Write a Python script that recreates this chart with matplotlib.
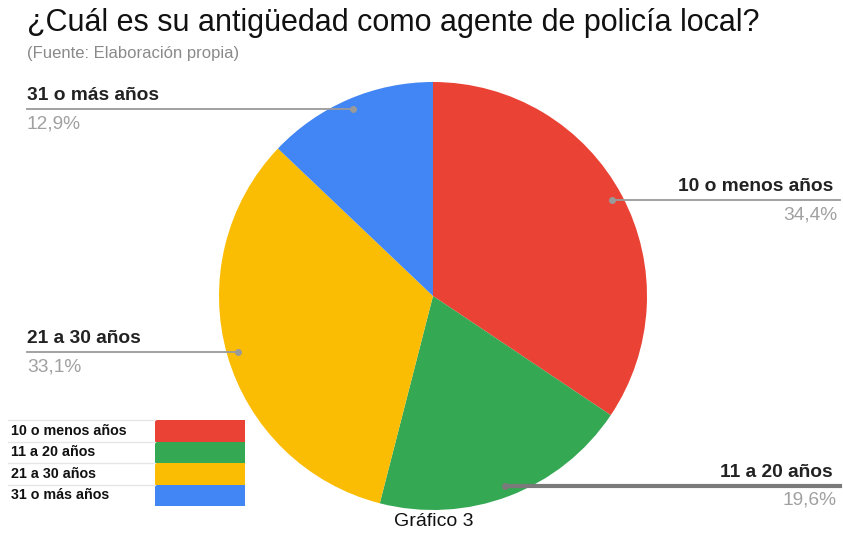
import numpy as np
import matplotlib
matplotlib.use('Agg')
import matplotlib.pyplot as plt
from matplotlib.patches import Rectangle

plt.rcParams['font.family'] = ['Liberation Sans', 'DejaVu Sans']

# Data
categories = ['10 o menos años', '11 a 20 años', '21 a 30 años', '31 o más años']
shares = [34.4, 19.6, 33.1, 12.9]
share_labels = ['34,4%', '19,6%', '33,1%', '12,9%']
colors = ['#EA4335', '#34A853', '#FBBC04', '#4285F4']

W, H = 843, 533
fig = plt.figure(figsize=(W / 100, H / 100), dpi=100)
ax = fig.add_axes([0, 0, 1, 1])

cx, cy, r = 433, H - 296, 214
wedges, _ = ax.pie(shares, colors=colors, startangle=90, counterclock=False,
                   center=(cx, cy), radius=r, frame=True,
                   wedgeprops=dict(linewidth=0))
ax.set_xlim(0, W)
ax.set_ylim(0, H)
ax.set_aspect('equal')
ax.axis('off')

# Title
fig.text(27 / W, 1 - 31 / H, '¿Cuál es su antigüedad como agente de policía local?',
         fontsize=22, color='#111111', ha='left', va='baseline')
fig.text(27 / W, 1 - 58 / H, '(Fuente: Elaboración propia)',
         fontsize=12, color='#8a8a8a', ha='left', va='baseline')

# Leader lines and labels
left_side = {2: True, 3: True, 0: False, 1: False}
for i, w in enumerate(wedges):
    mid = np.deg2rad((w.theta1 + w.theta2) / 2)
    ax_x = cx + 0.95 * r * np.cos(mid)
    ax_y = cy + 0.95 * r * np.sin(mid)
    lw = 3 if i == 1 else 1.3
    lc = '#7a7a7a' if i == 1 else '#9a9a9a'
    if left_side[i]:
        x_end = 27
        ax.plot([x_end, ax_x], [ax_y, ax_y], color=lc, lw=lw, zorder=3)
        ax.text(x_end, ax_y + 5, categories[i], fontsize=13.8, fontweight='bold',
                color='#222222', ha='left', va='bottom')
        ax.text(x_end, ax_y - 6, share_labels[i], fontsize=13.8,
                color='#a0a0a0', ha='left', va='top')
    else:
        x_end = 840
        ax.plot([ax_x, x_end], [ax_y, ax_y], color=lc, lw=lw, zorder=3)
        ax.text(x_end - 7, ax_y + 5, categories[i], fontsize=13.8, fontweight='bold',
                color='#222222', ha='right', va='bottom')
        ax.text(x_end - 3, ax_y - 6, share_labels[i], fontsize=13.8,
                color='#a0a0a0', ha='right', va='top')
    ax.plot(ax_x, ax_y, 'o', color=lc, ms=4, zorder=4)

# Legend table
row_h = 21.5
top = H - 420
for i, cat in enumerate(categories):
    y0 = top - (i + 1) * row_h
    ax.add_patch(Rectangle((8, y0), 147, row_h, facecolor='white',
                           edgecolor='none', zorder=5))
    ax.plot([8, 155], [y0 + row_h, y0 + row_h], color='#e6e6e6', lw=1, zorder=6)
    ax.add_patch(Rectangle((155, y0), 90, row_h, facecolor=colors[i],
                           edgecolor='none', zorder=5))
    ax.text(11, y0 + row_h / 2, cat, fontsize=10.3, fontweight='bold',
            color='#111111', ha='left', va='center', zorder=7)

fig.text(434 / W, 1 - 522 / H, 'Gráfico 3', fontsize=14, color='#111111',
         ha='center', va='center')

fig.savefig('out.png', dpi=100, facecolor='white')
